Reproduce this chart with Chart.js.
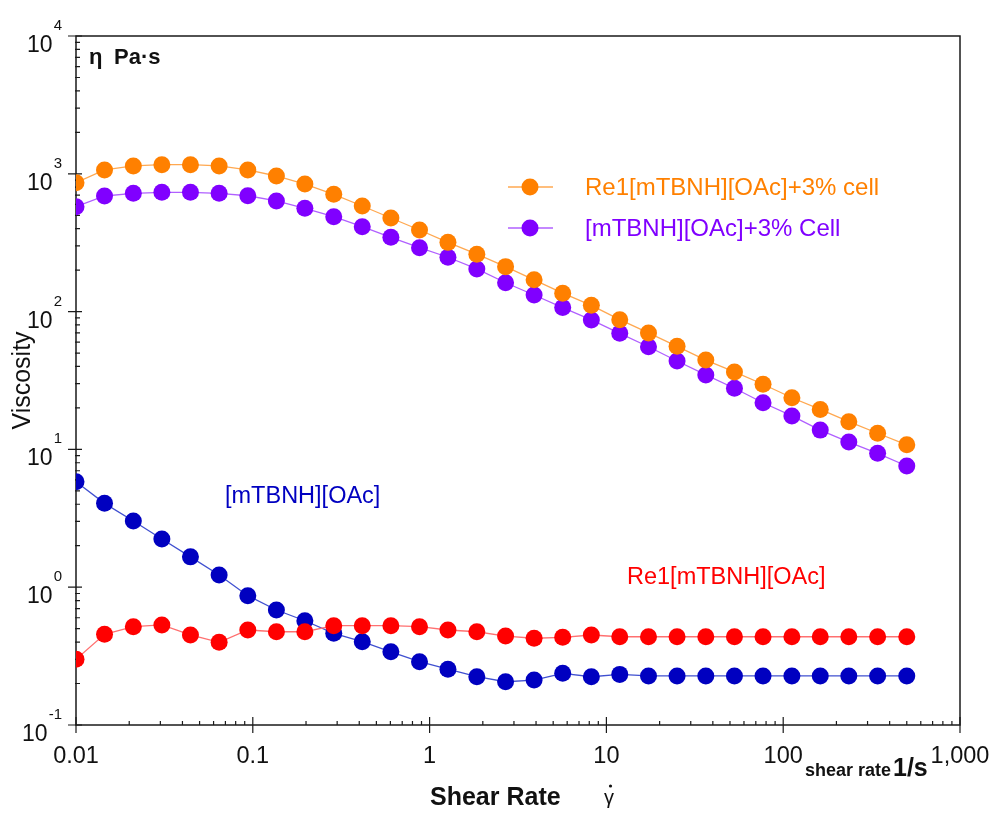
<!DOCTYPE html>
<html>
<head>
<meta charset="utf-8">
<script src="https://cdn.jsdelivr.net/npm/chart.js@4.4.1/dist/chart.umd.min.js"></script>
<style>
  html, body { margin: 0; padding: 0; background: #fff; }
  #wrap { width: 992px; height: 813px; }
</style>
</head>
<body>
<div id="wrap"><canvas id="chart" width="992" height="813"></canvas></div>
<script>
(function () {
  "use strict";

  /* ---- data -------------------------------------------------------- */
  var shearRate = [0.01, 0.0145, 0.0211, 0.0306, 0.0444, 0.0645, 0.0937, 0.136, 0.197, 0.287,
                   0.416, 0.604, 0.877, 1.27, 1.85, 2.69, 3.9, 5.66, 8.22, 11.9,
                   17.3, 25.1, 36.5, 53, 76.9, 112, 162, 235, 342, 500];

  var re1Cell = [861, 1066, 1140, 1164, 1164, 1140, 1066, 964, 843, 710,
                 584, 478, 391, 318, 261, 212, 170, 136, 111, 87.4,
                 70, 56, 44.5, 36.5, 29.7, 23.7, 19.5, 15.9, 13.1, 10.8];

  var ilCell = [577, 690, 722, 734, 734, 722, 693, 635, 562, 488,
                413, 346, 291, 248, 204, 162, 132, 107, 87, 69.6,
                55.6, 43.8, 34.7, 27.8, 21.8, 17.5, 13.8, 11.3, 9.37, 7.58];

  var re1Neat = [0.300, 0.455, 0.517, 0.532, 0.450, 0.398, 0.489, 0.475, 0.475, 0.526,
                 0.526, 0.526, 0.517, 0.489, 0.475, 0.442, 0.426, 0.433, 0.450, 0.437,
                 0.437, 0.437, 0.437, 0.437, 0.437, 0.437, 0.437, 0.437, 0.437, 0.437];

  var ilNeat = [5.83, 4.06, 3.02, 2.24, 1.66, 1.226, 0.868, 0.683, 0.571, 0.463,
                0.402, 0.340, 0.288, 0.254, 0.224, 0.206, 0.212, 0.237, 0.224, 0.233,
                0.227, 0.227, 0.227, 0.227, 0.227, 0.227, 0.227, 0.227, 0.227, 0.227];

  var xDecades = [0.01, 0.1, 1, 10, 100, 1000];
  var xTickLabels = ["0.01", "0.1", "1", "10", "100", "1,000"];
  var yDecades = [0.1, 1, 10, 100, 1000, 10000];
  var yExponents = ["-1", "0", "1", "2", "3", "4"];

  var ORANGE = "#ff8000", PURPLE = "#8000ff", RED = "#ff0000", BLUE = "#0000c0";
  var FONT = "'Liberation Sans', Arial, sans-serif";

  var pts = function (ys) {
    return shearRate.map(function (x, i) { return { x: x, y: ys[i] }; });
  };
  var series = function (label, ys, color, line) {
    return {
      label: label,
      data: pts(ys),
      borderColor: line,
      backgroundColor: color,
      pointBackgroundColor: color,
      pointBorderColor: color,
      borderWidth: 1.3,
      pointRadius: 8.5,
      pointBorderWidth: 0,
      tension: 0,
    };
  };

  /* ---- decorations: frame, ticks, exponent labels, annotations ----- */
  var decor = {
    id: "decor",
    beforeDatasetsDraw: function (chart) {
      var ctx = chart.ctx, a = chart.chartArea;
      var xs = chart.scales.x, ys = chart.scales.y;
      ctx.save();
      ctx.strokeStyle = "#1a1a1a";
      ctx.lineWidth = 1.5;
      ctx.strokeRect(a.left, a.top, a.right - a.left, a.bottom - a.top);
      ctx.lineWidth = 1.2;
      ctx.beginPath();
      xDecades.forEach(function (d, i) {
        var px = xs.getPixelForValue(d);
        ctx.moveTo(px, a.bottom - 8); ctx.lineTo(px, a.bottom + 8);
        if (i === xDecades.length - 1) return;
        for (var m = 2; m <= 9; m++) {
          var q = xs.getPixelForValue(d * m);
          ctx.moveTo(q, a.bottom - 4); ctx.lineTo(q, a.bottom);
        }
      });
      yDecades.forEach(function (d, i) {
        var py = ys.getPixelForValue(d);
        ctx.moveTo(a.left - 8, py); ctx.lineTo(a.left + 6, py);
        if (i === yDecades.length - 1) return;
        for (var m = 2; m <= 9; m++) {
          var q = ys.getPixelForValue(d * m);
          ctx.moveTo(a.left - 1, q); ctx.lineTo(a.left + 4, q);
        }
      });
      ctx.stroke();
      ctx.restore();
    },
    afterDraw: function (chart) {
      var ctx = chart.ctx;
      var ys = chart.scales.y;
      ctx.save();
      ctx.fillStyle = "#111";
      ctx.textBaseline = "alphabetic";

      /* y tick labels 10^n */
      yDecades.forEach(function (d, i) {
        var py = ys.getPixelForValue(d);
        ctx.font = "15px " + FONT;
        var ew = ctx.measureText(yExponents[i]).width;
        ctx.textAlign = "left";
        ctx.fillText(yExponents[i], 62 - ew, py - 6);
        ctx.font = "23px " + FONT;
        ctx.textAlign = "right";
        ctx.fillText("10", 62 - ew - 1, py + 16);
      });

      /* unit in the corner */
      ctx.textAlign = "left";
      ctx.font = "bold 22px " + FONT;
      ctx.fillText("\u03b7", 89, 64);
      ctx.fillText("Pa\u00b7s", 114, 64);

      /* x axis title */
      ctx.font = "bold 25px " + FONT;
      ctx.fillText("Shear Rate", 430, 805);
      ctx.font = "20px " + FONT;
      ctx.fillText("\u03b3", 604, 804);
      ctx.beginPath();
      ctx.arc(610.5, 786, 1.6, 0, Math.PI * 2);
      ctx.fill();

      /* unit at the right end of the x axis */
      ctx.font = "bold 18px " + FONT;
      ctx.fillText("shear rate", 805, 776);
      ctx.font = "bold 25px " + FONT;
      ctx.fillText("1/s", 893, 776);

      /* legend */
      var legend = [["Re1[mTBNH][OAc]+3% cell", ORANGE, "#ffa850", 187],
                    ["[mTBNH][OAc]+3% Cell", PURPLE, "#b060ff", 228]];
      legend.forEach(function (l) {
        ctx.strokeStyle = l[2];
        ctx.lineWidth = 1.3;
        ctx.beginPath(); ctx.moveTo(508, l[3]); ctx.lineTo(553, l[3]); ctx.stroke();
        ctx.fillStyle = l[1];
        ctx.beginPath(); ctx.arc(530, l[3], 8.5, 0, Math.PI * 2); ctx.fill();
        ctx.font = "24px " + FONT;
        ctx.textBaseline = "middle";
        ctx.fillText(l[0], 585, l[3] + 1);
      });

      /* series labels */
      ctx.font = "23.5px " + FONT;
      ctx.textBaseline = "middle";
      ctx.fillStyle = BLUE;
      ctx.fillText("[mTBNH][OAc]", 225, 497);
      ctx.fillStyle = RED;
      ctx.fillText("Re1[mTBNH][OAc]", 627, 578);
      ctx.restore();
    },
  };

  new Chart(document.getElementById("chart"), {
    type: "line",
    data: {
      datasets: [
        series("Re1[mTBNH][OAc]+3% cell", re1Cell, ORANGE, "#ffa850"),
        series("[mTBNH][OAc]+3% Cell", ilCell, PURPLE, "#b060ff"),
        series("Re1[mTBNH][OAc]", re1Neat, RED, "#ff7070"),
        series("[mTBNH][OAc]", ilNeat, BLUE, "#4050d0"),
      ],
    },
    options: {
      responsive: false,
      animation: false,
      events: [],
      layout: { padding: { top: 36, right: 32, left: 0, bottom: 0 } },
      plugins: {
        legend: { display: false },   /* drawn by hand inside the plot */
        tooltip: { enabled: false },
      },
      scales: {
        x: {
          type: "logarithmic",
          min: 0.01,
          max: 1000,
          grid: { display: false, drawTicks: false },
          border: { display: false },
          afterBuildTicks: function (s) {
            s.ticks = xDecades.map(function (v) { return { value: v, major: true }; });
          },
          afterFit: function (s) {
            s.height = 88;
            s.paddingLeft = 0;   /* "1,000" may overhang the plot edge */
            s.paddingRight = 0;
          },
          ticks: {
            autoSkip: false,
            maxRotation: 0,
            padding: 17,
            color: "#111",
            font: { family: FONT, size: 23.5 },
            callback: function (v, i) { return xTickLabels[i]; },
          },
        },
        y: {
          type: "logarithmic",
          min: 0.1,
          max: 10000,
          grid: { display: false, drawTicks: false },
          border: { display: false },
          ticks: { display: false },
          afterFit: function (s) { s.width = 76; },
          title: {
            display: true,
            text: "Viscosity",
            color: "#111",
            font: { family: FONT, size: 25 },
            padding: { top: 8, bottom: 0 },
          },
        },
      },
    },
    plugins: [decor],
  });
})();
</script>
</body>
</html>
